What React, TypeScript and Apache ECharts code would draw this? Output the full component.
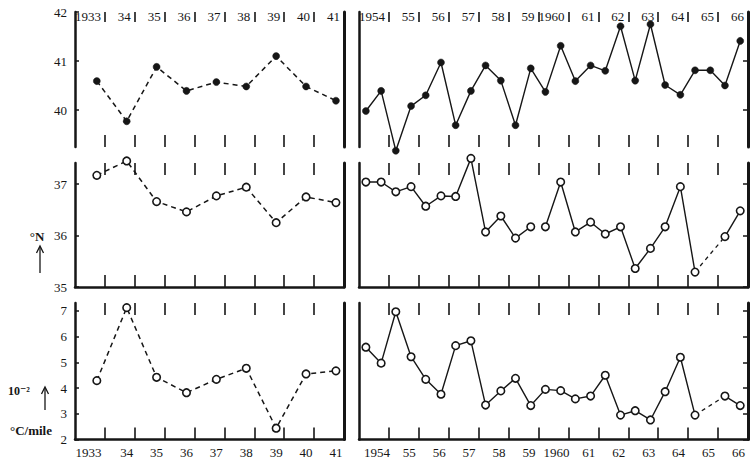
import React, { useEffect, useRef } from 'react';
import * as echarts from 'echarts';

// ---------- data ----------
const leftYears = [1933, 1934, 1935, 1936, 1937, 1938, 1939, 1940, 1941];
const leftYearLabels = ['1933', '34', '35', '36', '37', '38', '39', '40', '41'];
const rightYears = [1954, 1955, 1956, 1957, 1958, 1959, 1960, 1961, 1962, 1963, 1964, 1965, 1966];
const rightYearLabels = ['1954', '55', '56', '57', '58', '59', '1960', '61', '62', '63', '64', '65', '66'];

// observation times (fractional years)
const leftTimes = [1933.73, 1934.73, 1935.73, 1936.73, 1937.73, 1938.73, 1939.73, 1940.73, 1941.73];
const rightTimes = [
  1954.23, 1954.74, 1955.23, 1955.74, 1956.23, 1956.74, 1957.23, 1957.74, 1958.23, 1958.74,
  1959.23, 1959.74, 1960.23, 1960.74, 1961.23, 1961.74, 1962.23, 1962.74, 1963.23, 1963.74,
  1964.23, 1964.74, 1965.23, 1965.74, 1966.23, 1966.74,
];

// latitude (°N) – upper panels
const latUpperLeft = [40.59, 39.77, 40.88, 40.39, 40.57, 40.48, 41.1, 40.48, 40.19];
const latUpperRight = [
  39.98, 40.39, 39.17, 40.08, 40.3, 40.97, 39.69, 40.39, 40.91, 40.6,
  39.69, 40.85, 40.37, 41.31, 40.59, 40.91, 40.8, 41.71, 40.6, 41.75,
  40.51, 40.31, 40.81, 40.81, 40.5, 41.41,
];

// latitude (°N) – middle panels
const latMiddleLeft = [37.17, 37.45, 36.66, 36.46, 36.77, 36.94, 36.25, 36.75, 36.64];
const latMiddleRight = [
  37.04, 37.04, 36.85, 36.95, 36.57, 36.77, 36.76, 37.5, 36.07, 36.38,
  35.95, 36.17, 36.17, 37.04, 36.07, 36.26, 36.03, 36.17, 35.36, 35.75,
  36.17, 36.95, 35.29, null, 35.98, 36.48,
];
const middleRightUnlinkedAfter = [11]; // no line between 1959 autumn and 1960 spring

// gradient (10^-2 °C/mile) – lower panels
const gradLeft = [4.29, 7.13, 4.42, 3.82, 4.34, 4.77, 2.44, 4.55, 4.67];
const gradRight = [
  5.59, 4.97, 6.97, 5.22, 4.34, 3.76, 5.65, 5.84, 3.34, 3.89,
  4.38, 3.32, 3.95, 3.9, 3.58, 3.69, 4.5, 2.95, 3.12, 2.76,
  3.86, 5.2, 2.95, null, 3.69, 3.32,
];

// y tick labels
const upperTicks = [40, 41, 42];
const middleTicks = [35, 36, 37];
const lowerTicks = [2, 3, 4, 5, 6, 7];

// ---------- styling ----------
const INK = '#161616';
const FONT = '"Liberation Serif", "DejaVu Serif", serif';

type Pt = [number, number];

function segments(times: number[], vals: (number | null)[], unlinked: number[]) {
  const solid: Pt[][] = [];
  const bridges: Pt[][] = [];
  let cur: Pt[] = [];
  vals.forEach((v, i) => {
    if (v == null) {
      if (cur.length) solid.push(cur);
      cur = [];
      let j = i - 1;
      while (j >= 0 && vals[j] == null) j--;
      let k = i + 1;
      while (k < vals.length && vals[k] == null) k++;
      if (j >= 0 && k < vals.length) {
        bridges.push([[times[j], vals[j] as number], [times[k], vals[k] as number]]);
      }
      return;
    }
    cur.push([times[i], v]);
    if (unlinked.includes(i)) {
      solid.push(cur);
      cur = [];
    }
  });
  if (cur.length) solid.push(cur);
  return { solid, bridges };
}

function App() {
  const ref = useRef<HTMLDivElement>(null);

  useEffect(() => {
    if (!ref.current) return;
    const chart = echarts.init(ref.current, null, { renderer: 'svg' });

    const rows = [
      { top: 12, height: 135, min: 39.245, max: 42, ticks: upperTicks, baseline: false },
      { top: 163, height: 124, min: 35, max: 37.41, ticks: middleTicks, baseline: true },
      { top: 303, height: 136.5, min: 2, max: 7.31, ticks: lowerTicks, baseline: true },
    ];
    const cols = [
      { left: 75, width: 269, years: leftYears, labels: leftYearLabels, frac2: 0.73, frac4: 0.45 },
      { left: 359, width: 389, years: rightYears, labels: rightYearLabels, frac2: 0.68, frac4: 0.6 },
    ];

    const grid: any[] = [];
    const xAxis: any[] = [];
    const yAxis: any[] = [];
    const series: any[] = [];

    const panelData = [
      [latUpperLeft, latUpperRight],
      [latMiddleLeft, latMiddleRight],
      [gradLeft, gradRight],
    ];

    rows.forEach((row, r) => {
      cols.forEach((col, c) => {
        const g = grid.length;
        grid.push({ left: col.left, top: row.top, width: col.width, height: row.height, containLabel: false });
        const xmin = col.years[0];
        const xmax = col.years[col.years.length - 1] + 1;
        const interior = col.years.slice(1);
        const labelAt = col.years.map((y, i) => y + (col.labels[i].length > 2 ? col.frac4 : col.frac2));
        const labelFor = (v: number) => {
          const idx = col.years.indexOf(Math.floor(v + 1e-6));
          return idx >= 0 ? col.labels[idx] : '';
        };

        // bottom x axis
        xAxis.push({
          type: 'value', gridIndex: g, position: 'bottom', min: xmin, max: xmax,
          axisLine: { show: row.baseline, onZero: false, lineStyle: { color: INK, width: 2.5 } },
          axisTick: { show: true, inside: true, length: 12, customValues: interior, lineStyle: { color: INK, width: 1.6 } },
          axisLabel: r === 2
            ? { show: true, customValues: labelAt, formatter: (v: number) => labelFor(v), fontFamily: FONT, fontSize: 13, color: INK, margin: 6 }
            : { show: false },
          splitLine: { show: false },
        });
        // top x axis
        xAxis.push({
          type: 'value', gridIndex: g, position: 'top', min: xmin, max: xmax,
          axisLine: { show: false, onZero: false },
          axisTick: { show: true, inside: true, length: r === 0 ? 10 : 12, customValues: interior, lineStyle: { color: INK, width: 1.6 } },
          axisLabel: r === 0
            ? {
                show: true, inside: true, margin: -2,
                customValues: col.years.map((y) => y + 1),
                formatter: (v: number) => labelFor(v - 1),
                align: 'right', padding: [0, 4, 0, 0],
                fontFamily: FONT, fontSize: 13, color: INK,
              }
            : { show: false },
          splitLine: { show: false },
        });
        // left y axis
        yAxis.push({
          type: 'value', gridIndex: g, position: 'left', min: row.min, max: row.max,
          axisLine: { show: true, onZero: false, lineStyle: { color: INK, width: 2.5 } },
          axisTick: c === 0
            ? { show: true, inside: true, length: 4, customValues: row.ticks, lineStyle: { color: INK, width: 1.5 } }
            : { show: false },
          axisLabel: c === 0
            ? { show: true, customValues: row.ticks, fontFamily: FONT, fontSize: 13, color: INK, margin: 8 }
            : { show: false },
          splitLine: { show: false },
        });
        // right border
        yAxis.push({
          type: 'value', gridIndex: g, position: 'right', min: row.min, max: row.max,
          axisLine: { show: true, onZero: false, lineStyle: { color: INK, width: 3 } },
          axisTick: c === 1
            ? { show: true, inside: true, length: 5, customValues: row.ticks.filter((t) => t < row.max - 0.1), lineStyle: { color: INK, width: 1.5 } }
            : { show: false },
          axisLabel: { show: false },
          splitLine: { show: false },
        });

        const filled = r === 0;
        const marker = {
          symbol: 'circle',
          symbolSize: filled ? 7 : 7.5,
          itemStyle: filled
            ? { color: INK, borderColor: INK, borderWidth: 0.5 }
            : { color: '#ffffff', borderColor: INK, borderWidth: 1.6 },
        };
        const vals = panelData[r][c];
        const xAxisIndex = 2 * g;
        const yAxisIndex = 2 * g;

        if (c === 0) {
          series.push({
            type: 'line', xAxisIndex, yAxisIndex, clip: false, z: 3,
            data: leftTimes.map((t, i) => [t, vals[i]]),
            lineStyle: { color: INK, width: 1.5, type: [5, 4] },
            ...marker,
          });
        } else {
          const { solid, bridges } = segments(rightTimes, vals, r === 1 ? middleRightUnlinkedAfter : []);
          solid.forEach((seg) => {
            series.push({
              type: 'line', xAxisIndex, yAxisIndex, clip: false, z: 3,
              data: seg,
              lineStyle: { color: INK, width: 1.4, type: 'solid' },
              ...marker,
            });
          });
          bridges.forEach((seg) => {
            series.push({
              type: 'line', xAxisIndex, yAxisIndex, clip: false, z: 2,
              data: seg, showSymbol: false, symbol: 'none',
              lineStyle: { color: INK, width: 1.3, type: [4, 4] },
            });
          });
        }
      });
    });

    const arrow = (x: number, yTop: number, yBottom: number) => [
      { type: 'line', shape: { x1: x, y1: yBottom, x2: x, y2: yTop + 1 }, style: { stroke: INK, lineWidth: 1.3 } },
      { type: 'polyline', shape: { points: [[x - 3.5, yTop + 7], [x, yTop], [x + 3.5, yTop + 7]] }, style: { stroke: INK, lineWidth: 1.3, fill: null } },
    ];

    chart.setOption({
      animation: false,
      backgroundColor: '#ffffff',
      grid, xAxis, yAxis, series,
      graphic: [
        { type: 'text', x: 37, y: 236, style: { text: '°N', align: 'center', verticalAlign: 'middle', font: `bold 13px ${FONT}`, fill: INK } },
        ...arrow(40, 246, 273),
        { type: 'text', x: 19, y: 391, style: { text: '10⁻²', align: 'center', verticalAlign: 'middle', font: `bold 12px ${FONT}`, fill: INK } },
        ...arrow(45, 387, 410),
        { type: 'text', x: 31, y: 430, style: { text: '°C/mile', align: 'center', verticalAlign: 'middle', font: `bold 13px ${FONT}`, fill: INK } },
      ],
    });

    return () => chart.dispose();
  }, []);

  return <div ref={ref} style={{ position: 'absolute', left: 0, top: 0, width: 756, height: 460 }} />;
}

export default App;
